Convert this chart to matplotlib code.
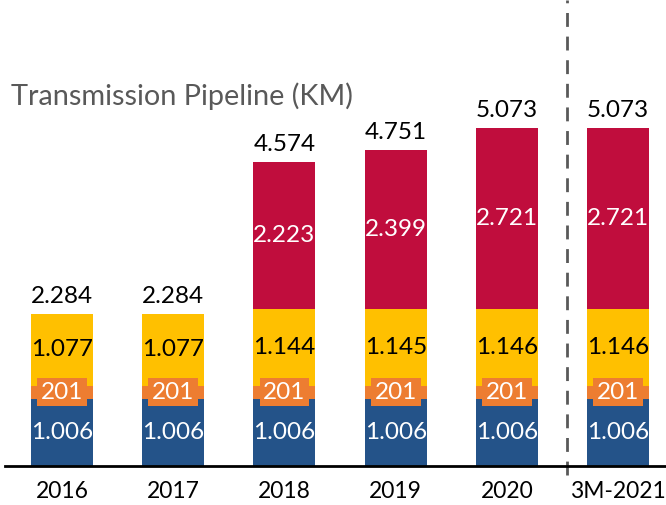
import matplotlib.pyplot as plt

plt.rcParams["font.family"] = ["Lato", "DejaVu Sans"]

years = ["2016", "2017", "2018", "2019", "2020", "3M-2021"]
blue_vals = [1006, 1006, 1006, 1006, 1006, 1006]
orange_vals = [201, 201, 201, 201, 201, 201]
yellow_vals = [1077, 1077, 1144, 1145, 1146, 1146]
red_vals = [0, 0, 2223, 2399, 2721, 2721]
totals = [2284, 2284, 4574, 4751, 5073, 5073]


def fmt(v):
    # dot as thousands separator
    return "{:,}".format(v).replace(",", ".")


fig = plt.figure(figsize=(6.66, 5.05), dpi=100)
ax = fig.add_axes([5 / 666, 39 / 505, 661 / 666, 466 / 505])

x = list(range(len(years)))
width = 0.557

blue = "#245389"
orange = "#ED7D31"
yellow = "#FFC000"
red = "#C00D3D"

bottom = [0] * len(years)
ax.bar(x, blue_vals, width, bottom=bottom, color=blue)
bottom = [b + v for b, v in zip(bottom, blue_vals)]
ax.bar(x, orange_vals, width, bottom=bottom, color=orange)
bottom = [b + v for b, v in zip(bottom, orange_vals)]
ax.bar(x, yellow_vals, width, bottom=bottom, color=yellow)
bottom = [b + v for b, v in zip(bottom, yellow_vals)]
ax.bar(x, red_vals, width, bottom=bottom, color=red)

fs = 17.5
for i in x:
    b = blue_vals[i]
    o = orange_vals[i]
    yv = yellow_vals[i]
    r = red_vals[i]
    ax.text(i, b / 2, fmt(b), ha="center", va="center", color="white", fontsize=fs)
    ax.text(i, b + o / 2, fmt(o), ha="center", va="center", color="white", fontsize=fs,
            bbox=dict(boxstyle="square,pad=0.15", fc=orange, ec="none"))
    ax.text(i, b + o + yv / 2, fmt(yv), ha="center", va="center", color="black", fontsize=fs)
    if r > 0:
        ax.text(i, b + o + yv + r / 2, fmt(r), ha="center", va="center", color="white", fontsize=fs)
    ax.annotate(fmt(totals[i]), (i, totals[i]), xytext=(0, 5), textcoords="offset points",
                ha="center", va="bottom", color="black", fontsize=fs)

ax.plot([4.54, 4.54], [-140, 7000], color="#595959", lw=2, ls=(0, (5, 3.5)), clip_on=False)

ax.text(-0.46, 5560, "Transmission Pipeline (KM)", color="#595959", fontsize=20.8, ha="left", va="center")

ax.set_xlim(-0.512, 5.43)
ax.set_ylim(0, 7000)
ax.set_xticks(x)
ax.set_xticklabels(years, fontsize=16.5)
ax.tick_params(axis="x", length=0, pad=11)
ax.set_yticks([])
for s in ["top", "right", "left"]:
    ax.spines[s].set_visible(False)
ax.spines["bottom"].set_linewidth(2)
ax.spines["bottom"].set_color("black")

fig.savefig("out.png", dpi=100)
